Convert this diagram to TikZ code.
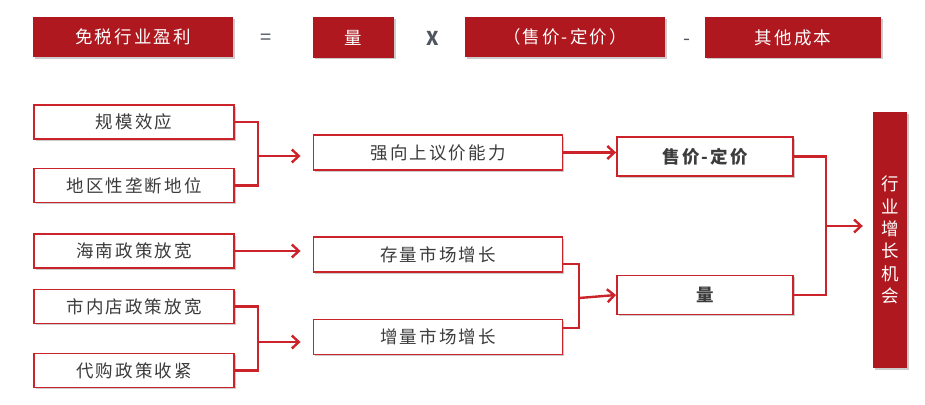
\documentclass[tikz,border=0pt]{standalone}
\usepackage{fontspec}
\setmainfont{Noto Sans CJK SC}[LetterSpace=12]
\usetikzlibrary{arrows.meta,shadows}

\definecolor{deepred}{RGB}{174,24,30}
\definecolor{linered}{RGB}{204,34,41}
\definecolor{textgray}{RGB}{60,60,60}
\definecolor{opgray}{RGB}{80,86,96}

\begin{document}
\begin{tikzpicture}[x=1pt,y=-1pt,
    every node/.style={font=\fontsize{17.5}{20}\selectfont, inner sep=0pt},
    boxshadow/.style={drop shadow={opacity=0.4, shadow xshift=1.8pt, shadow yshift=-1.8pt, fill=gray}},
    headbox/.style={fill=deepred, text=white, boxshadow, minimum height=40pt},
    factbox/.style={draw=linered, line width=1.9pt, fill=white, text=textgray, boxshadow,
                    minimum width=200pt, minimum height=34pt},
    midbox/.style={factbox, minimum width=249pt, minimum height=35pt},
    endbox/.style={factbox, minimum width=176pt, minimum height=39pt, font=\fontsize{17.5}{20}\selectfont\bfseries},
    opsign/.style={text=opgray, font=\fontsize{20}{22}\selectfont},
    link/.style={draw=linered, line width=2.4pt},
    pointer/.style={link, -{Straight Barb[length=7pt,width=13pt,line width=2.4pt]}}]
    \useasboundingbox (0,0) rectangle (925,404);

    % formula row
    \node[headbox, minimum width=200pt] (tm) at (133,37) {免税行业盈利};
    \node[opsign] (eq) at (266,39) {=};
    \node[headbox, minimum width=81pt] (tq) at (353.5,37.5) {量};
    \node[opsign, font=\fontsize{19}{20}\selectfont\bfseries] (times) at (433,38) {X};
    \node[headbox, minimum width=200pt] (tp) at (565,37) {（售价-定价）};
    \node[opsign] (minus) at (687,42) {-};
    \node[headbox, minimum width=176pt] (tc) at (793,37.5) {其他成本};

    % drivers
    \foreach \name/\y/\labeltext in {gm/122/规模效应, dq/185.5/地区性垄断地位,
        hn/251/海南政策放宽, sn/306.5/市内店政策放宽, dg/370.5/代购政策收紧}
    {
        \node[factbox] (\name) at (134,\y) {\labeltext};
    }
    \node[midbox] (yj) at (438,152.5) {强向上议价能力};
    \node[midbox] (cl) at (438,254.5) {存量市场增长};
    \node[midbox] (zl) at (438,337) {增量市场增长};
    \node[endbox] (sp) at (705,156.5) {售价-定价};
    \node[endbox] (lq) at (705,295) {量};
    \node[fill=deepred, text=white, boxshadow, minimum width=34pt, minimum height=256pt,
          align=center, font=\fontsize{17.5}{22.4}\selectfont] (hy) at (890,240)
          {行\\业\\增\\长\\机\\会};

    \coordinate (j1) at (258,156);
    \coordinate (j2) at (258,342);
    \coordinate (j3) at (579,298);
    \coordinate (j4) at (826,226);

    \draw[link] (gm.east) -| (j1);
    \draw[link] (dq.east) -| (j1);
    \draw[pointer, shorten >=12pt] (j1) -- (j1 -| yj.west);
    \draw[pointer] (yj.east) -- (yj.east -| sp.west);

    \draw[pointer, shorten >=12pt] (hn.east) -- (hn.east -| cl.west);
    \draw[link] (sn.east) -| (j2);
    \draw[link] (dg.east) -| (j2);
    \draw[pointer, shorten >=12pt] (j2) -- (j2 -| zl.west);

    \draw[link] ([yshift=-9.5pt]cl.east) -| (j3);
    \draw[link] ([yshift=9pt]zl.east) -| (j3);
    \draw[pointer] (j3) -- (lq.west);

    \draw[link] (sp.east) -| (j4);
    \draw[link] (lq.east) -| (j4);
    \draw[pointer, shorten >=10pt] (j4) -- (j4 -| hy.west);
\end{tikzpicture}
\end{document}
